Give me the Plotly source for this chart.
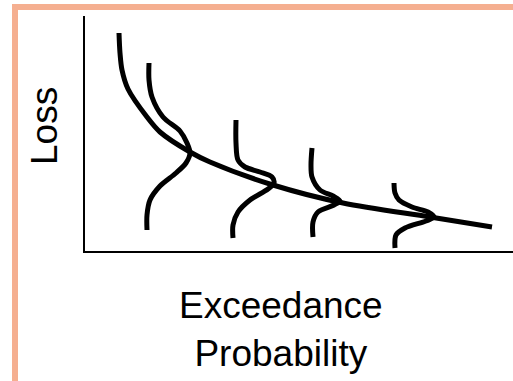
import plotly.graph_objects as go

# Schematic data (arbitrary units: x = exceedance probability axis, y = loss)
curve_x = [34, 35, 37, 43, 62, 75, 105, 125, 188, 258, 345, 407]
curve_y = [218, 198, 181, 162, 134, 119, 99, 89, 66, 48, 34, 24]

dist1_x = [64, 64, 67, 78, 95, 102, 105, 101, 91, 75, 65, 62, 62]
dist1_y = [188, 171, 154, 134, 120, 108, 98, 88, 78, 65, 51, 36, 21]

dist2_x = [151, 151, 153, 160, 175, 187, 189, 183, 165, 153, 148, 148]
dist2_y = [131, 108, 91, 84, 79, 74, 68, 62, 51, 39, 26, 13]

dist3_x = [227, 226, 227, 235, 248, 255, 249, 233, 228, 228]
dist3_y = [103, 86, 74, 61, 55, 50, 46, 39, 29, 14]

dist4_x = [309, 310, 314, 327, 343, 349, 341, 320, 311, 310]
dist4_y = [68, 58, 51, 44, 39, 34, 30, 23, 16, 3]

x_title = "Exceedance<br>Probability"
y_title = "Loss"

W, H = 513, 381
FONT = "Liberation Sans, Arial, sans-serif"
BORDER = "#F5AF90"

fig = go.Figure()
line_style = dict(color="black", width=5, shape="spline", smoothing=0.9)
for xs, ys in [(curve_x, curve_y), (dist1_x, dist1_y), (dist2_x, dist2_y),
               (dist3_x, dist3_y), (dist4_x, dist4_y)]:
    fig.add_trace(go.Scatter(x=xs, y=ys, mode="lines", line=line_style,
                             hoverinfo="skip", showlegend=False))

fig.update_layout(
    width=W, height=H,
    margin=dict(l=0, r=0, t=0, b=0),
    paper_bgcolor="white", plot_bgcolor="white",
    showlegend=False,
    xaxis=dict(domain=[85 / W, 1], range=[0, 428], showgrid=False,
               zeroline=False, showticklabels=False, ticks="",
               showline=True, linecolor="black", linewidth=2),
    yaxis=dict(domain=[(H - 251) / H, (H - 16) / H], range=[0, 235],
               showgrid=False, zeroline=False, showticklabels=False, ticks="",
               showline=True, linecolor="black", linewidth=2),
    shapes=[
        dict(type="rect", xref="paper", yref="paper",
             x0=12 / W, x1=1, y0=1 - 10 / H, y1=1 - 4 / H,
             fillcolor=BORDER, line=dict(width=0), layer="above"),
        dict(type="rect", xref="paper", yref="paper",
             x0=12 / W, x1=18 / W, y0=0, y1=1 - 4 / H,
             fillcolor=BORDER, line=dict(width=0), layer="above"),
    ],
    annotations=[
        dict(text=y_title, xref="paper", yref="paper",
             x=44 / W, y=1 - 126 / H, xanchor="center", yanchor="middle",
             textangle=-90, showarrow=False,
             font=dict(family=FONT, size=37, color="black")),
        dict(text=x_title, xref="paper", yref="paper",
             x=281 / W, y=1 - 329 / H, xanchor="center", yanchor="middle",
             showarrow=False,
             font=dict(family=FONT, size=37, color="black")),
    ],
)

fig.write_html(
    "out.html",
    config={"displayModeBar": False},
    post_script="document.body.style.margin='0';"
                "document.body.style.overflow='hidden';",
)
